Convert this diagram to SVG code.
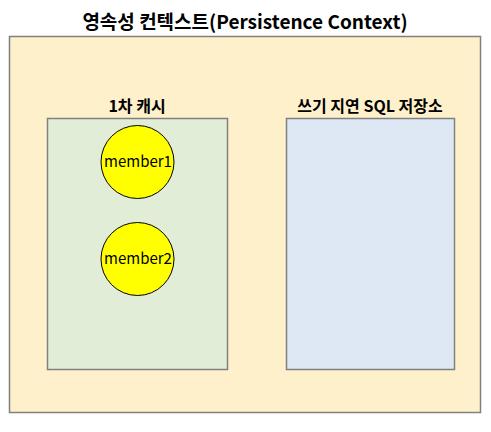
<svg xmlns="http://www.w3.org/2000/svg" width="491" height="432" viewBox="0 0 491 432">
<style>
text{font-family:"Noto Sans CJK KR","Noto Sans",sans-serif;fill:#000;text-anchor:middle}
.box{stroke:#808080;stroke-width:1.5}
.t{font-weight:bold;font-size:19px}
.l{font-weight:bold;font-size:16px}
.m{font-size:15px}
.c{fill:#ffff00;stroke:#000;stroke-width:1}
</style>
<rect width="491" height="432" fill="#ffffff"/>
<g id="context">
<rect class="box" x="9.5" y="36.5" width="471" height="376" fill="#fff0cc"/>
<text class="t" x="245" y="29">영속성 컨텍스트(Persistence Context)</text>
</g>
<g id="cache">
<rect class="box" x="47.5" y="118.5" width="180" height="251" fill="#e2edd8"/>
<text class="l" x="137" y="112">1차 캐시</text>
</g>
<g id="sqlstore">
<rect class="box" x="286.5" y="118.5" width="168" height="251" fill="#dde8f4"/>
<text class="l" x="370" y="112">쓰기 지연 SQL 저장소</text>
</g>
<g id="member1">
<circle class="c" cx="137.5" cy="162" r="36.5"/>
<text class="m" x="138" y="167">member1</text>
</g>
<g id="member2">
<circle class="c" cx="137.5" cy="259" r="36.5"/>
<text class="m" x="138" y="264">member2</text>
</g>
<g id="connectors"></g>
</svg>
